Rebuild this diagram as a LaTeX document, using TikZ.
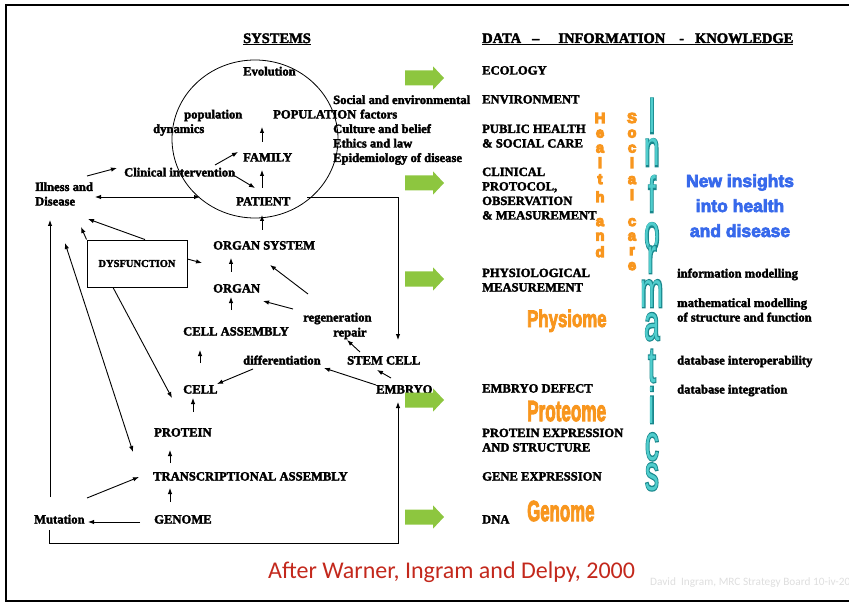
\documentclass[tikz,border=0pt]{standalone}
\usepackage{fontspec}
\usepackage{graphicx}
\setmainfont{Liberation Serif}[BoldFeatures={FakeBold=2.5}]
\newfontfamily\lsans{Liberation Sans}
\newfontfamily\heavysans{Liberation Sans}[UprightFont={* Bold}, FakeBold=4]
\newfontfamily\blacksans{Liberation Sans}[UprightFont={* Bold}, FakeBold=8]
\newfontfamily\infoO{Liberation Sans}[FakeBold=5]
\newfontfamily\calib{Carlito}
\usetikzlibrary{arrows.meta}
\definecolor{gr}{RGB}{141,198,63}
\definecolor{orng}{RGB}{248,150,30}
\definecolor{tealfill}{RGB}{80,205,205}
\definecolor{tealline}{RGB}{25,135,140}
\definecolor{blu}{RGB}{55,105,235}
\definecolor{redc}{RGB}{195,40,28}
\definecolor{lgray}{RGB}{222,222,222}
\tikzset{
  lbl/.style={inner sep=0pt, anchor=base west, font=\bfseries\fontsize{12.6}{14.5}\selectfont},
  hdr/.style={inner sep=0pt, anchor=base west, font=\bfseries\fontsize{14.5}{17}\selectfont},
  arr/.style={-{Latex[length=6pt,width=4.5pt]}, line width=0.9pt},
  darr/.style={{Latex[length=6pt,width=4.5pt]}-{Latex[length=6pt,width=4.5pt]}, line width=0.9pt},
  vlet/.style={inner sep=0pt, anchor=base, text=orng, font=\blacksans\fontsize{14.5}{14.5}\selectfont},
  ilet/.style={inner sep=0pt, anchor=base, text=tealfill, font=\lsans\fontsize{50}{50}\selectfont},
  big/.style={inner sep=0pt, anchor=base west, text=orng},
}
\newcommand\outlet[1]{\scalebox{0.55}[1]{\rlap{\textcolor{tealline}{\infoO #1}}#1}}
\begin{document}
\begin{tikzpicture}[x=1pt,y=-1pt]
\useasboundingbox (0,0) rectangle (849,604);
% frame
\draw[line width=2.5pt] (870,5) -- (6,5) -- (6,601) -- (870,601);
% headers
\node[hdr] (sys) at (243,43) {\underline{SYSTEMS}};
\node[hdr] (dik) at (482,43) {\underline{DATA\hspace{11pt}–\hspace{19pt}INFORMATION\hspace{14pt}-\hspace{11pt}KNOWLEDGE}};
% circle
\draw[line width=0.8pt] (255,139) ellipse [x radius=83, y radius=79];
% left nodes
\node[lbl] (evol) at (243,75.5) {Evolution};
\node[lbl] (popl) at (184,118.5) {population};
\node[lbl] (dyn) at (153,133) {dynamics};
\node[lbl] (pop) at (273,118.5) {POPULATION};
\node[lbl, align=left] (soc) at (333,162) {Social and environmental\\\hspace{27pt}factors\\Culture and belief\\Ethics and law\\Epidemiology of disease};
\node[lbl] (family) at (243,161.5) {FAMILY};
\node[lbl] (clin) at (124,176.5) {Clinical intervention};
\node[lbl] (patient) at (236,205.5) {PATIENT};
\node[lbl, align=left] (ill) at (35,205.5) {Illness and\\Disease};
\node[lbl] (orgsys) at (213,249.5) {ORGAN SYSTEM};
\node[lbl] (organ) at (213,292.5) {ORGAN};
\node[lbl] (cellasm) at (183,335.5) {CELL ASSEMBLY};
\node[lbl] (regen) at (303,321.5) {regeneration};
\node[lbl] (repair) at (333,336.5) {repair};
\node[lbl] (diff) at (243,364.5) {differentiation};
\node[lbl] (stem) at (347,364.5) {STEM CELL};
\node[lbl] (cell) at (183,393.5) {CELL};
\node[lbl] (embryo) at (376,393.5) {EMBRYO};
\node[lbl] (protein) at (154,436.5) {PROTEIN};
\node[lbl] (trans) at (153,480.5) {TRANSCRIPTIONAL ASSEMBLY};
\node[lbl] (genome) at (154,523.5) {GENOME};
\node[lbl] (mut) at (34,523.5) {Mutation};
\node[draw, line width=0.9pt, minimum width=100pt, minimum height=47pt, inner sep=0pt,
      font=\bfseries\fontsize{10.5}{12}\selectfont] (dysf) at (137,263.5) {DYSFUNCTION};
% arrows
\draw[arr] ([shift={(19,-19.5)}]family.base west) -- ([shift={(-11,8.5)}]pop.base west);
\draw[arr] ([shift={(26,-17.5)}]patient.base west) -- ([shift={(19,8.5)}]family.base west);
\draw[arr] ([shift={(49,-19.5)}]orgsys.base west) -- ([shift={(26,9.5)}]patient.base west);
\draw[arr] ([shift={(91,-11.5)}]clin.base west) -- ([shift={(-5,-9.5)}]family.base west);
\draw[arr] ([shift={(111,-0.5)}]clin.base west) -- ([shift={(19,-17.5)}]patient.base west);
\draw[arr] ([shift={(52,-29.5)}]ill.base west) -- ([shift={(-7,-8.5)}]clin.base west);
\draw[darr] ([shift={(60,-8.5)}]ill.base west) -- ([shift={(-36,-8.5)}]patient.base west);
\draw[arr] ([shift={(71,-8.5)}]patient.base west) -| ([shift={(51,-24.5)}]stem.base west);
\draw[arr] ([shift={(0,-4.5)}]dysf.east) -- ([shift={(-11,13.5)}]orgsys.base west);
\draw[arr] ([shift={(8,0)}]dysf.north) -- ([shift={(53,13.5)}]ill.base west);
\draw[arr] (dysf.north west) -- ([shift={(46,21.5)}]ill.base west);
\draw[arr] ([shift={(-24,0)}]dysf.south) -- ([shift={(-11,4.5)}]cell.base west);
\draw[darr] ([shift={(30,37.5)}]ill.base west) -- ([shift={(-20,-28.5)}]trans.base west);
\draw[arr] ([shift={(16,-26.5)}]mut.base west) -- ([shift={(15,14.5)}]ill.base west);
\draw[arr] ([shift={(18,-20.5)}]organ.base west) -- ([shift={(18,8.5)}]orgsys.base west);
\draw[arr] ([shift={(5,-27.5)}]regen.base west) -- ([shift={(57,15.5)}]orgsys.base west);
\draw[arr] ([shift={(-10,-12.5)}]regen.base west) -- ([shift={(50,8.5)}]organ.base west);
\draw[arr] ([shift={(48,-25.5)}]cellasm.base west) -- ([shift={(18,4.5)}]organ.base west);
\draw[arr] ([shift={(17,-30.5)}]cell.base west) -- ([shift={(17,14.5)}]cellasm.base west);
\draw[arr] ([shift={(10,4.5)}]diff.base west) -- ([shift={(34,-9.5)}]cell.base west);
\draw[arr] ([shift={(13,-12.5)}]stem.base west) -- ([shift={(14,3.5)}]repair.base west);
\draw[arr] ([shift={(15,-15.5)}]embryo.base west) -- ([shift={(30,5.5)}]stem.base west);
\draw[arr] ([shift={(0,-8.5)}]embryo.base west) -- ([shift={(81,3.5)}]diff.base west);
\draw[arr] ([shift={(39,-24.5)}]protein.base west) -- ([shift={(10,4.5)}]cell.base west);
\draw[arr] ([shift={(17,-17.5)}]trans.base west) -- ([shift={(16,13.5)}]protein.base west);
\draw[arr] ([shift={(53,-25.5)}]mut.base west) -- ([shift={(-14,-3.5)}]trans.base west);
\draw[arr] ([shift={(16,-21.5)}]genome.base west) -- ([shift={(17,7.5)}]trans.base west);
\draw[arr] ([shift={(-14,-1.5)}]genome.base west) -- ([shift={(54,-1.5)}]mut.base west);
\draw[arr] ([shift={(15,6.5)}]mut.base west) -- ++(0,13.5) -| ([shift={(22,8.5)}]embryo.base west);
% green arrows
\foreach \y in {78,183,279,400,517}
  \fill[gr] (405,\y-7.5) -- (433,\y-7.5) -- (433,\y-11.7) -- (444,\y) -- (433,\y+11.7) -- (433,\y+7.5) -- (405,\y+7.5) -- cycle;
% right column
\node[lbl] (eco) at (482,74.5) {ECOLOGY};
\node[lbl] (env) at (482,103.5) {ENVIRONMENT};
\node[lbl, align=left] (ph) at (482,147.5) {PUBLIC HEALTH\\\& SOCIAL CARE};
\node[lbl, align=left] (cp) at (482,219.5) {CLINICAL\\PROTOCOL,\\OBSERVATION\\\& MEASUREMENT};
\node[lbl, align=left] (pm) at (482,291.5) {PHYSIOLOGICAL\\MEASUREMENT};
\node[lbl] (ed) at (482,392.5) {EMBRYO DEFECT};
\node[lbl, align=left] (pe) at (482,451.5) {PROTEIN EXPRESSION\\AND STRUCTURE};
\node[lbl] (ge) at (482,480.5) {GENE EXPRESSION};
\node[lbl] (dna) at (482,523.5) {DNA};
% far right
\node[lbl] (im) at (677,277.5) {information modelling};
\node[lbl, align=left] (mm) at (677,321.5) {mathematical modelling\\of structure and function};
\node[lbl] (di) at (677,364.5) {database interoperability};
\node[lbl] (dint) at (677,393.5) {database integration};
% blue
\node[inner sep=0pt, anchor=base, align=center, text=blu,
      font=\heavysans\fontsize{17.5}{25}\selectfont] (ni) at (740,237) {New insights\\into health\\and disease};
% orange words
\node[big, font=\heavysans\fontsize{24}{24}\selectfont] (phys) at (527,327) {\scalebox{0.7}[1]{Physiome}};
\node[big, font=\heavysans\fontsize{29}{29}\selectfont] (prot) at (527,421) {\scalebox{0.59}[1]{Proteome}};
\node[big, font=\heavysans\fontsize{29}{29}\selectfont] (gen) at (527,521) {\scalebox{0.58}[1]{Genome}};
% vertical letters
\foreach \l/\b [count=\i] in {H/123,e/137.5,a/152.5,l/168,t/184,h/202,a/226,n/240.5,d/257}
  \node[vlet] (hl\i) at (600,\b) {\l};
\foreach \l/\b [count=\i] in {S/123,o/137.5,c/152.5,i/168,a/184,l/200,c/226,a/240.5,r/255,e/270}
  \node[vlet] (sl\i) at (632,\b) {\l};
\foreach \l/\b [count=\i] in {I/133,n/166,f/212,o/250,r/273,m/307,a/340,t/382,i/423,c/460,s/490}
  \node[ilet] (il\i) at (652,\b) {\outlet{\l}};
% citation
\node[inner sep=0pt, anchor=base west, text=redc, font=\calib\fontsize{24}{24}\selectfont] (cit) at (268,578) {After Warner, Ingram and Delpy, 2000};
\node[inner sep=0pt, anchor=base west, text=lgray, font=\calib\fontsize{11.3}{11.3}\selectfont] (dav) at (650,585) {David\ \ Ingram, MRC Strategy Board 10-iv-20};
\end{tikzpicture}
\end{document}
